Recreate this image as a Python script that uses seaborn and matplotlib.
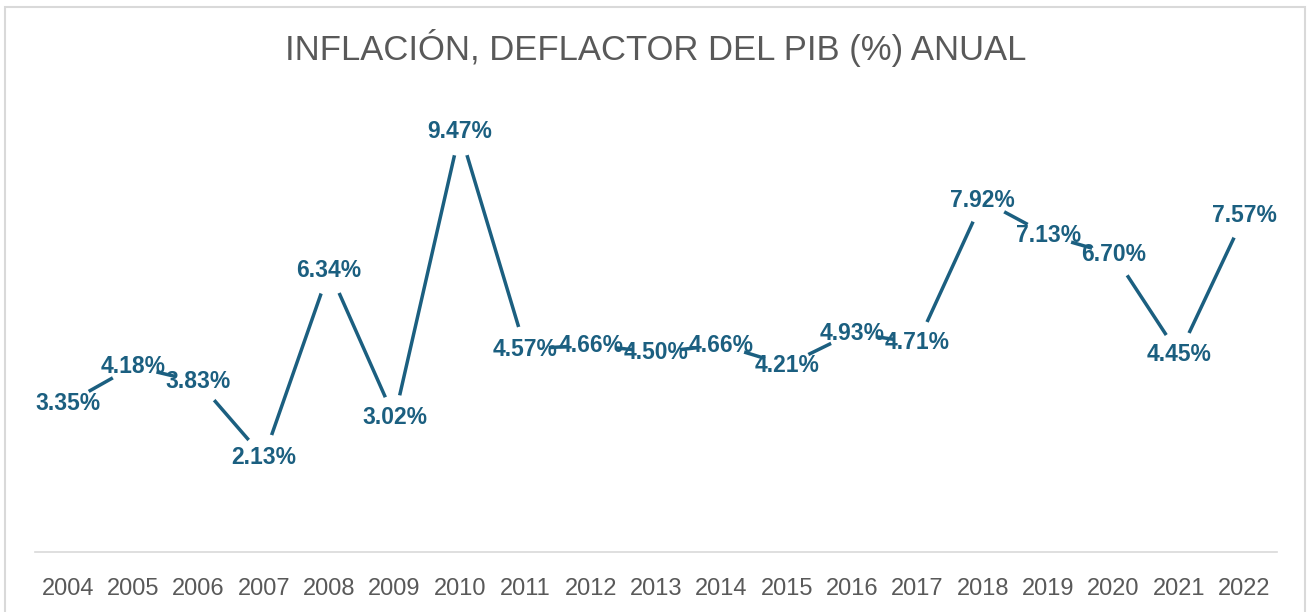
import matplotlib
matplotlib.use("Agg")
import matplotlib.pyplot as plt
import seaborn as sns
import pandas as pd
from matplotlib.patches import Rectangle

years = [2004, 2005, 2006, 2007, 2008, 2009, 2010, 2011, 2012, 2013,
         2014, 2015, 2016, 2017, 2018, 2019, 2020, 2021, 2022]
inflation = [3.35, 4.18, 3.83, 2.13, 6.34, 3.02, 9.47, 4.57, 4.66, 4.50,
             4.66, 4.21, 4.93, 4.71, 7.92, 7.13, 6.70, 4.45, 7.57]
title = "INFLACIÓN, DEFLACTOR DEL PIB (%) ANUAL"

sns.set_theme(style="white")
plt.rcParams['font.family'] = ['Liberation Sans', 'DejaVu Sans']

line_color = "#1B5F80"
grey = "#595959"

df = pd.DataFrame({"year": years, "value": inflation})

fig = plt.figure(figsize=(13.08, 6.12), dpi=100)
ax = fig.add_axes([35/1308, 60/612, (1277-35)/1308, 444/612])

sns.lineplot(data=df, x="year", y="value", ax=ax, color=line_color,
             linewidth=2.5, zorder=2, marker="o", markersize=34,
             markerfacecolor="white", markeredgecolor="none")

for x, v in zip(df["year"], df["value"]):
    ax.text(x, v, f"{v:.2f}%", ha="center", va="center", fontsize=16.5,
            fontweight="bold", color=line_color, zorder=3)

ax.set_xlim(years[0] - 0.5, years[-1] + 0.5)
ax.set_ylim(0, 10)
ax.set_xticks(years)
ax.set_xticklabels([str(y) for y in years], fontsize=17, color=grey)
ax.set_yticks([])
ax.set_xlabel("")
ax.set_ylabel("")
ax.tick_params(axis="x", length=0, pad=19)
for s in ["top", "right", "left"]:
    ax.spines[s].set_visible(False)
ax.spines["bottom"].set_color("#D9D9D9")
ax.spines["bottom"].set_linewidth(1.2)
ax.patch.set_alpha(0)

fig.text(656/1308, 1 - 48/612, title, ha="center", va="center",
         fontsize=24.9, color=grey)

fig.patches.append(Rectangle((5/1308, -0.05), 1300/1308, 1.05 - 7/612,
                             transform=fig.transFigure, fill=False,
                             edgecolor="#D9D9D9", linewidth=1.5))

fig.savefig("out.png", dpi=100)
